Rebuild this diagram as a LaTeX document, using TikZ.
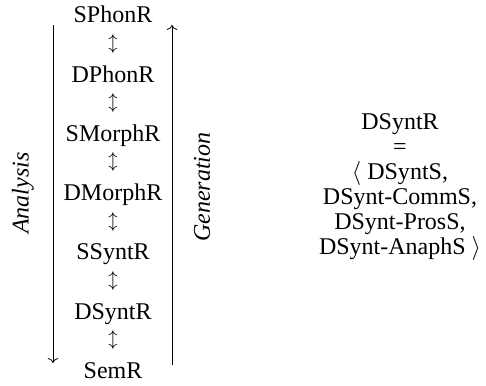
\documentclass[tikz,border=0pt]{standalone}
\usepackage{fontspec}
\setmainfont{Liberation Serif}
\usetikzlibrary{arrows.meta}
\newcommand{\dir}[4]{\node[rotate=90, font=\fontsize{12}{14.5}\selectfont\itshape] (#1) at (#2,#3) {#4};}

\begin{document}
\begin{tikzpicture}[x=0.5pt, y=-0.5pt, font=\fontsize{12}{14.5}\selectfont]
	\useasboundingbox (0,0) rectangle (486,385);
	% levels of representation
	\foreach \name [count=\i from 0] in {SPhonR,DPhonR,SMorphR,DMorphR,SSyntR,DSyntR,SemR}
		\node[anchor=base] (\name) at (113,23+59.2*\i) {\name};
	\foreach \i in {0,...,5}
		\node[font=\fontsize{9}{10}\selectfont, inner sep=0pt] (link\i) at (113,44+59.2*\i) {$\updownarrow$};
	% directions
	\coordinate (anatop) at (53,25);
	\coordinate (anabot) at (53,363);
	\coordinate (gentop) at (172,25);
	\coordinate (genbot) at (172,365);
	\draw[->] (anatop) -- (anabot);
	\draw[->] (genbot) -- (gentop);
	\dir{analysis}{23}{193}{Analysis}
	\dir{generation}{202}{187}{Generation}
	% definition
	\node[align=center, font=\fontsize{12}{12.5}\selectfont] (def) at (400,187)
		{DSyntR\\=\\$\langle$ DSyntS,\\DSynt-CommS,\\DSynt-ProsS,\\DSynt-AnaphS $\rangle$};
\end{tikzpicture}
\end{document}
